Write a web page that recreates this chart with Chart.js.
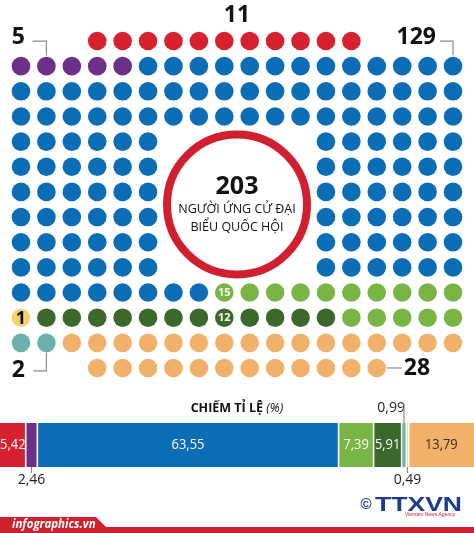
<!DOCTYPE html>
<html lang="vi">
<head>
<meta charset="utf-8">
<script src="https://cdn.jsdelivr.net/npm/chart.js@4.4.1/dist/chart.umd.min.js"></script>
<style>
  html, body { margin: 0; padding: 0; background: #fff; }
  #khung { position: relative; width: 474px; height: 533px; overflow: hidden; background: #fff; }
  #bieuDoCham { position: absolute; left: 0; top: 0; }
  #bieuDoTiLe { position: absolute; left: 0; top: 390px; }
</style>
</head>
<body>
<div id="khung">
  <canvas id="bieuDoCham" width="474" height="390"></canvas>
  <canvas id="bieuDoTiLe" width="474" height="143"></canvas>
</div>
<script>
// số liệu
const nhom = ['Đỏ', 'Tím', 'Xanh dương', 'Xanh lá', 'Xanh rêu', 'Vàng', 'Xanh ngọc', 'Cam'];
const soNguoi = [11, 5, 129, 15, 12, 1, 2, 28];
const tiLe = [5.42, 2.46, 63.55, 7.39, 5.91, 0.49, 0.99, 13.79];
const mau = ['#d7212e', '#6d3088', '#0b6db5', '#79b545', '#3b692b', '#f5d46a', '#6cb1ad', '#f1b16b'];
// thứ tự các đoạn trên thanh tỉ lệ
const thuTuThanh = [0, 1, 2, 3, 4, 6, 5, 7];

// bố cục lưới chấm: [hàng, cột đầu, cột cuối] theo thứ tự lấp
const hangCham = [
  [0, 3, 13], [1, 0, 17], [2, 0, 17], [3, 0, 17],
  [4, 0, 5], [4, 12, 17], [5, 0, 5], [5, 12, 17], [6, 0, 5], [6, 12, 17],
  [7, 0, 5], [7, 12, 17], [8, 0, 5], [8, 12, 17], [9, 0, 5], [9, 12, 17],
  [10, 0, 17], [11, 17, 0], [12, 0, 17], [13, 3, 14]
];

const oCham = [];
hangCham.forEach(([r, a, b]) => {
  const buoc = a <= b ? 1 : -1;
  for (let c = a; c !== b + buoc; c += buoc) oCham.push({ x: c, y: r });
});

let dem = 0;
const tapCham = nhom.map((ten, i) => {
  const diem = oCham.slice(dem, dem + soNguoi[i]);
  dem += soNguoi[i];
  return {
    label: ten,
    data: diem,
    backgroundColor: mau[i],
    borderWidth: 0,
    pointRadius: 9.3,
    pointHoverRadius: 9.3
  };
});

const fontChu = '"Open Sans", "Noto Sans", sans-serif';

function chuSo(ctx, txt, x, y, align) {
  ctx.textAlign = align || 'center';
  ctx.textBaseline = 'middle';
  ctx.fillText(txt, x, y);
}

// chữ hơi hẹp lại cho giống font gốc
function chuHep(ctx, txt, x, y, tiLeNgang) {
  ctx.save();
  ctx.translate(x, y);
  ctx.scale(tiLeNgang, 1);
  chuSo(ctx, txt, 0, 0);
  ctx.restore();
}

function duong(ctx, pts) {
  ctx.beginPath();
  ctx.moveTo(pts[0][0], pts[0][1]);
  for (let i = 1; i < pts.length; i++) ctx.lineTo(pts[i][0], pts[i][1]);
  ctx.stroke();
}

const nhanCham = {
  id: 'nhanCham',
  afterDatasetsDraw(chart) {
    const ctx = chart.ctx;
    const sx = chart.scales.x, sy = chart.scales.y;
    const diem = (i, j) => chart.getDatasetMeta(i).data[j];
    ctx.save();

    // vòng tròn giữa
    const cx = sx.getPixelForValue(8.5), cy = sy.getPixelForValue(6.5);
    ctx.beginPath();
    ctx.arc(cx, cy, 70, 0, Math.PI * 2);
    ctx.fillStyle = '#fff';
    ctx.fill();
    ctx.lineWidth = 8;
    ctx.strokeStyle = '#d01f2f';
    ctx.stroke();

    const tong = soNguoi.reduce((a, b) => a + b, 0);
    ctx.fillStyle = '#111';
    ctx.font = 'bold 25px ' + fontChu;
    chuSo(ctx, String(tong), cx, cy - 18);
    ctx.font = '12.5px ' + fontChu;
    chuSo(ctx, 'NGƯỜI ỨNG CỬ ĐẠI', cx, cy + 5);
    chuSo(ctx, 'BIỂU QUỐC HỘI', cx, cy + 23);

    // số lớn quanh lưới
    ctx.font = 'bold 23px ' + fontChu;
    ctx.strokeStyle = '#8a8a8a';
    ctx.lineWidth = 1.2;

    let p = diem(1, 1);
    chuSo(ctx, String(soNguoi[1]), p.x - 28, p.y - 29);
    duong(ctx, [[p.x - 14, p.y - 25], [p.x, p.y - 25], [p.x, p.y - 11]]);

    chuSo(ctx, String(soNguoi[0]), sx.getPixelForValue(8.5), sy.getPixelForValue(0) - 26);

    p = diem(2, 12);
    chuSo(ctx, String(soNguoi[2]), p.x - 17, p.y - 29, 'right');
    duong(ctx, [[p.x - 13, p.y - 25], [p.x, p.y - 25], [p.x, p.y - 11]]);

    p = diem(6, 1);
    chuSo(ctx, String(soNguoi[6]), p.x - 28, p.y + 28);
    duong(ctx, [[p.x, p.y + 10], [p.x, p.y + 28], [p.x - 13, p.y + 28]]);

    p = diem(7, soNguoi[7] - 1);
    chuSo(ctx, String(soNguoi[7]), p.x + 27, p.y, 'left');
    duong(ctx, [[p.x + 10, p.y], [p.x + 25, p.y]]);

    // số trong chấm
    ctx.font = 'bold 11px ' + fontChu;
    ctx.fillStyle = '#fff';
    p = diem(3, 0);
    chuSo(ctx, String(soNguoi[3]), p.x, p.y + 0.5);
    p = diem(4, 4);
    chuSo(ctx, String(soNguoi[4]), p.x, p.y + 0.5);
    ctx.font = 'bold 18px ' + fontChu;
    ctx.fillStyle = '#111';
    p = diem(5, 0);
    chuSo(ctx, String(soNguoi[5]), p.x, p.y + 1);

    ctx.restore();
  }
};

new Chart(document.getElementById('bieuDoCham'), {
  type: 'scatter',
  data: { datasets: tapCham },
  options: {
    responsive: false,
    animation: false,
    events: [],
    layout: { padding: 0, autoPadding: false },
    plugins: { legend: { display: false }, tooltip: { enabled: false } },
    scales: {
      x: { type: 'linear', display: false, min: -0.826, max: 17.826 },
      y: { type: 'linear', display: false, reverse: true, min: -1.63, max: 13.875 }
    }
  },
  plugins: [nhanCham]
});

const dinhDang = v => v.toFixed(2).replace('.', ',');
// vị trí nhãn: trong / trên / dưới
const viTriNhan = ['trong', 'duoi', 'trong', 'trong', 'trong', 'duoi', 'tren', 'trong'];

const nhanThanh = {
  id: 'nhanThanh',
  afterDatasetsDraw(chart) {
    const ctx = chart.ctx;
    ctx.save();
    const metas = thuTuThanh.map((_, k) => chart.getDatasetMeta(k).data[0]);

    // khe trắng giữa các đoạn
    ctx.strokeStyle = '#fff';
    ctx.lineWidth = 1.6;
    metas.slice(0, -1).forEach(el => {
      duong(ctx, [[el.x, el.y - el.height / 2], [el.x, el.y + el.height / 2]]);
    });

    const top = metas[0].y - metas[0].height / 2;
    const bot = metas[0].y + metas[0].height / 2;

    metas.forEach((el, k) => {
      const i = thuTuThanh[k];
      const giua = (el.x + el.base) / 2;
      const txt = dinhDang(tiLe[i]);
      if (viTriNhan[i] === 'trong') {
        ctx.font = '15px ' + fontChu;
        ctx.fillStyle = i === 7 ? '#3a2a1c' : '#fff';
        chuHep(ctx, txt, giua, el.y, 0.86);
      } else {
        ctx.font = '14px ' + fontChu;
        ctx.fillStyle = '#222';
        ctx.strokeStyle = '#8a8a8a';
        ctx.lineWidth = 1.2;
        if (viTriNhan[i] === 'tren') {
          chuSo(ctx, txt, giua + 1, top - 15, 'right');
          duong(ctx, [[giua, top - 19], [giua, top]]);
        } else {
          chuSo(ctx, txt, giua, bot + 13);
          duong(ctx, [[giua, bot], [giua, bot + 6]]);
        }
      }
    });

    // tiêu đề
    ctx.fillStyle = '#111';
    ctx.textBaseline = 'middle';
    ctx.textAlign = 'left';
    ctx.font = 'bold 12.5px ' + fontChu;
    const t1 = 'CHIẾM TỈ LỆ ';
    const w1 = ctx.measureText(t1).width;
    ctx.font = 'italic 12.5px ' + fontChu;
    const w2 = ctx.measureText('(%)').width;
    const x0 = 237 - (w1 + w2) / 2;
    ctx.font = 'bold 12.5px ' + fontChu;
    ctx.fillText(t1, x0, 18);
    ctx.font = 'italic 12.5px ' + fontChu;
    ctx.fillText('(%)', x0 + w1, 18);

    // chân trang
    ctx.fillStyle = '#d21f2d';
    ctx.beginPath();
    ctx.moveTo(0, 127);
    ctx.lineTo(96, 127);
    ctx.lineTo(106, 137);
    ctx.lineTo(474, 137);
    ctx.lineTo(474, 143);
    ctx.lineTo(0, 143);
    ctx.closePath();
    ctx.fill();
    ctx.fillStyle = '#fff';
    ctx.font = 'italic bold 11.5px ' + fontChu;
    ctx.textAlign = 'left';
    ctx.fillText('infographics.vn', 12, 135);

    // logo
    ctx.fillStyle = '#1d3b8f';
    ctx.font = 'bold 15px "Liberation Sans", sans-serif';
    ctx.textAlign = 'center';
    ctx.fillText('©', 366, 115);
    ctx.font = '900 19px "Liberation Sans", sans-serif';
    const wl = ctx.measureText('TTXVN').width;
    ctx.save();
    ctx.translate(375, 116);
    ctx.scale(87 / wl, 1.05);
    ctx.textAlign = 'left';
    ctx.fillText('TTXVN', 0, 0);
    ctx.restore();
    ctx.fillStyle = '#c8202e';
    ctx.font = '5px "Liberation Sans", sans-serif';
    ctx.textAlign = 'left';
    ctx.fillText('Vietnam News Agency', 405, 125);

    ctx.restore();
  }
};

new Chart(document.getElementById('bieuDoTiLe'), {
  type: 'bar',
  data: {
    labels: ['Tỉ lệ'],
    datasets: thuTuThanh.map(i => ({
      label: nhom[i],
      data: [tiLe[i]],
      backgroundColor: mau[i],
      borderWidth: 0,
      barPercentage: 1,
      categoryPercentage: 1
    }))
  },
  options: {
    indexAxis: 'y',
    responsive: false,
    animation: false,
    events: [],
    layout: { padding: { top: 33, bottom: 66, left: 0, right: 0 }, autoPadding: false },
    plugins: { legend: { display: false }, tooltip: { enabled: false } },
    scales: {
      x: { stacked: true, display: false, min: 0, max: 100 },
      y: { stacked: true, display: false }
    }
  },
  plugins: [nhanThanh]
});
</script>
</body>
</html>
